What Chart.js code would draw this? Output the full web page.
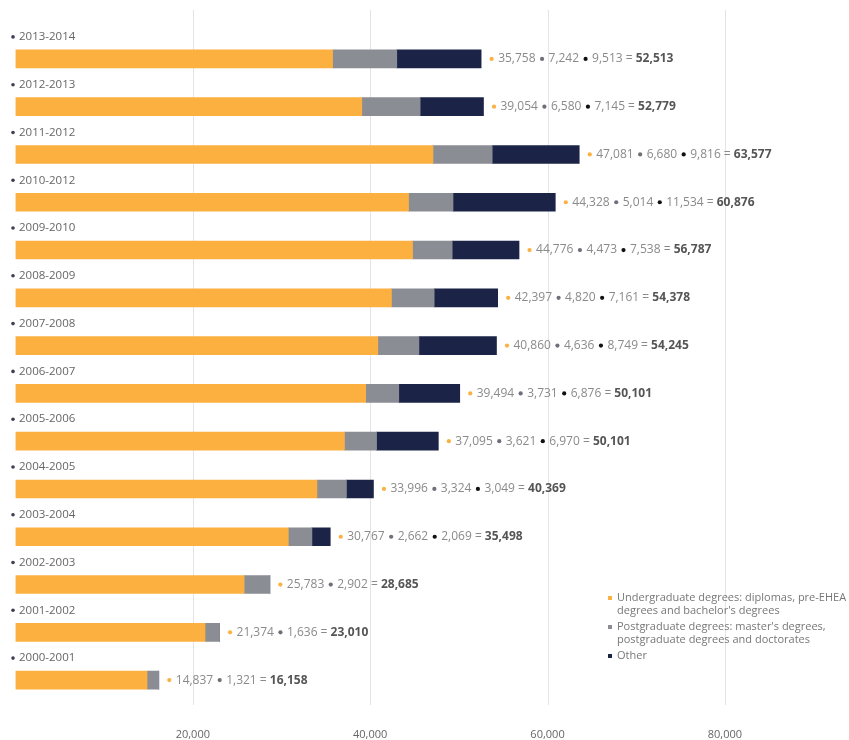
<!DOCTYPE html>
<html>
<head>
<meta charset="utf-8">
<script src="https://cdn.jsdelivr.net/npm/chart.js@4.4.1/dist/chart.umd.min.js"></script>
<style>
  html, body { margin: 0; padding: 0; background: #fff; }
  #wrap { width: 849px; height: 740px; position: relative; }
</style>
</head>
<body>
<div id="wrap"><canvas id="myChart"></canvas></div>
<script>
// academic years, top to bottom
const years = ['2013-2014', '2012-2013', '2011-2012', '2010-2012', '2009-2010', '2008-2009', '2007-2008',
  '2006-2007', '2005-2006', '2004-2005', '2003-2004', '2002-2003', '2001-2002', '2000-2001'];
const undergrad = [35758, 39054, 47081, 44328, 44776, 42397, 40860, 39494, 37095, 33996, 30767, 25783, 21374, 14837];
const postgrad = [7242, 6580, 6680, 5014, 4473, 4820, 4636, 3731, 3621, 3324, 2662, 2902, 1636, 1321];
const other = [9513, 7145, 9816, 11534, 7538, 7161, 8749, 6876, 6970, 3049, 2069, 0, 0, 0];
// totals as printed next to the bars
const totals = [52513, 52779, 63577, 60876, 56787, 54378, 54245, 50101, 50101, 40369, 35498, 28685, 23010, 16158];
const xTicks = [20000, 40000, 60000, 80000];
const legendLines = [
  ['Undergraduate degrees: diplomas, pre-EHEA', 'degrees and bachelor\'s degrees'],
  ['Postgraduate degrees: master\'s degrees,', 'postgraduate degrees and doctorates'],
  ['Other']
];

const colors = ['#FBB040', '#8A8D94', '#1B2446'];
const fmt = v => v.toLocaleString('en-US');
const FONT = '"Open Sans", sans-serif';

const labelsPlugin = {
  id: 'labels',
  beforeDraw(chart) {
    const { ctx } = chart;
    const x = chart.scales.x;
    ctx.save();
    ctx.strokeStyle = '#e4e4e4';
    ctx.lineWidth = 1;
    xTicks.forEach(t => {
      const px = Math.round(x.getPixelForValue(t)) + 0.5;
      ctx.beginPath();
      ctx.moveTo(px, 10);
      ctx.lineTo(px, 705);
      ctx.stroke();
    });
    ctx.restore();
  },
  afterDatasetsDraw(chart) {
    const { ctx } = chart;
    const x = chart.scales.x, y = chart.scales.y;
    ctx.save();
    ctx.textBaseline = 'middle';
    years.forEach((yr, i) => {
      const py = y.getPixelForValue(i);
      // year label above the bar
      ctx.fillStyle = '#3a3f55';
      ctx.beginPath();
      ctx.arc(13, py - 22, 1.8, 0, Math.PI * 2);
      ctx.fill();
      ctx.font = '11.5px ' + FONT;
      ctx.fillStyle = '#666';
      ctx.fillText(yr, 19, py - 22);

      // breakdown after the bar
      const parts = [undergrad[i], postgrad[i], other[i]];
      const stackEnd = parts.reduce((a, b) => a + b, 0);
      let px = x.getPixelForValue(stackEnd) + 9;
      ctx.font = '12px ' + FONT;
      parts.forEach((v, k) => {
        if (!v) return;
        if (k > 0) px += 5;
        ctx.fillStyle = k === 0 ? colors[0] : (k === 1 ? '#6d7078' : '#111');
        ctx.beginPath();
        ctx.arc(px + 1.5, py, 2.1, 0, Math.PI * 2);
        ctx.fill();
        px += 8;
        ctx.fillStyle = '#8a8a8a';
        const s = fmt(v);
        ctx.fillText(s, px, py);
        px += ctx.measureText(s).width;
      });
      ctx.fillStyle = '#8a8a8a';
      ctx.fillText(' = ', px, py);
      px += ctx.measureText(' = ').width;
      ctx.font = 'bold 12px ' + FONT;
      ctx.fillStyle = '#555';
      ctx.fillText(fmt(totals[i]), px, py);
    });

    // legend
    let ly = 598;
    legendLines.forEach((lines, k) => {
      ctx.fillStyle = colors[k];
      ctx.fillRect(608, ly - 2, 4, 4);
      ctx.font = '11px ' + FONT;
      ctx.fillStyle = '#777';
      lines.forEach(l => {
        ctx.fillText(l, 617, ly);
        ly += 13;
      });
      ly += 3;
    });
    ctx.restore();
  }
};

const ctx = document.getElementById('myChart').getContext('2d');
const myChart = new Chart(ctx, {
  type: 'bar',
  data: {
    labels: years,
    datasets: [
      { label: 'Undergraduate', data: undergrad, backgroundColor: colors[0] },
      { label: 'Postgraduate', data: postgrad, backgroundColor: colors[1] },
      { label: 'Other', data: other, backgroundColor: colors[2] }
    ]
  },
  options: {
    indexAxis: 'y',
    responsive: true,
    maintainAspectRatio: false,
    animation: false,
    barThickness: 18,
    layout: { padding: { left: 15.5, top: 35, right: 0, bottom: 0 } },
    plugins: { legend: { display: false }, tooltip: { enabled: false } },
    scales: {
      x: {
        stacked: true,
        min: 0,
        max: 94000,
        border: { display: false },
        grid: { display: false, drawTicks: false },
        afterBuildTicks: s => { s.ticks = xTicks.map(v => ({ value: v })); },
        afterFit: s => { s.height = 36; },
        ticks: {
          padding: 24,
          color: '#666',
          font: { family: FONT, size: 11 },
          callback: v => fmt(v)
        }
      },
      y: { stacked: true, display: false }
    }
  },
  plugins: [labelsPlugin]
});
</script>
</body>
</html>
